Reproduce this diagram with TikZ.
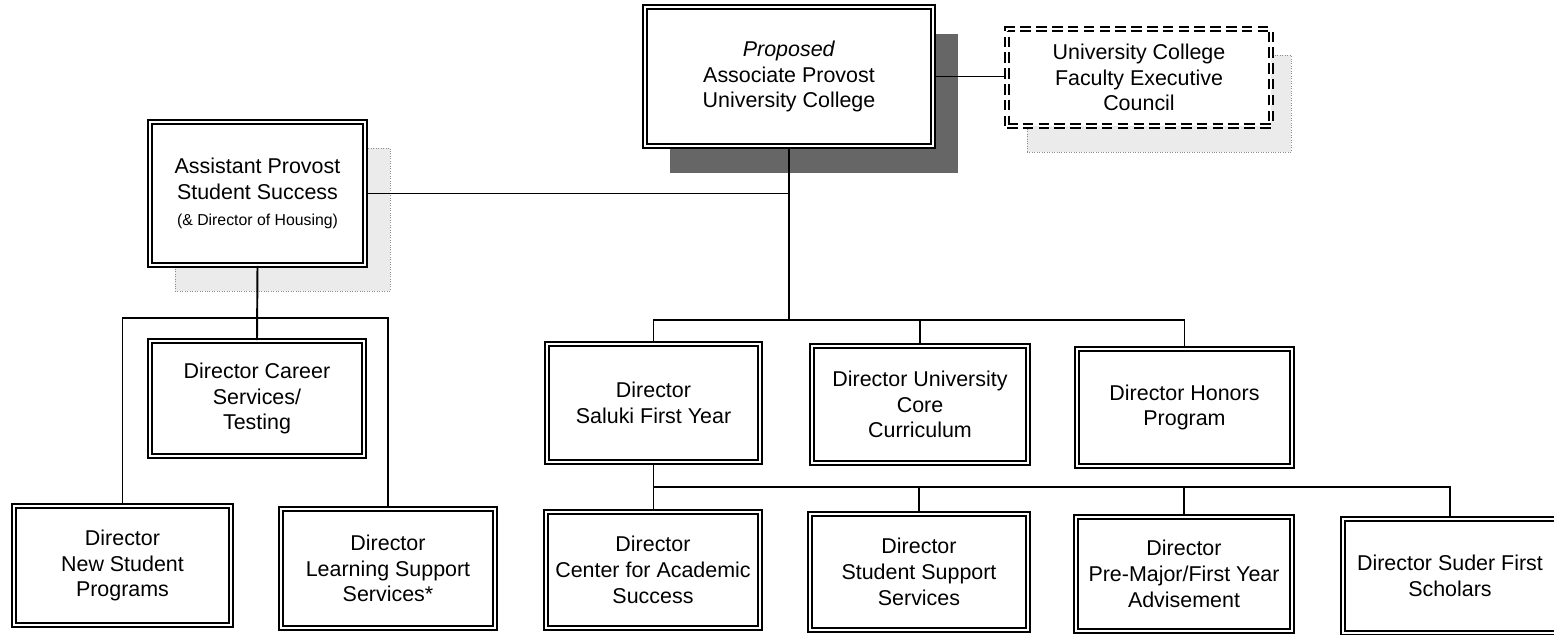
\documentclass[tikz,border=0pt]{standalone}
\usepackage{fontspec}
\setmainfont{Liberation Sans}
\usetikzlibrary{shadows}

\tikzset{
  office/.style={draw, line width=1pt, double=white, double distance=1.4pt, fill=white,
    align=center, inner sep=0pt, font=\fontsize{12.2}{14.7}\selectfont},
  darkshadow/.style={drop shadow={shadow xshift=0.5cm, shadow yshift=-0.55cm, fill=black!60, opacity=1}},
  paleshadow/.style={drop shadow={shadow xshift=#1, shadow yshift=-0.52cm, fill=black!8,
    draw=black!45, densely dotted, line width=0.4pt, opacity=1}},
  link/.style={line width=1.1pt}
}

\begin{document}
\begin{tikzpicture}
      \useasboundingbox (0,0) rectangle (31.08,12.7);

      \node (assoc) at(15.78,11.17)[office, darkshadow, minimum width=5.76cm, minimum height=2.78cm]
        {\textit{Proposed}\\Associate Provost\\University College};
      \node (council) at(22.78,11.15)[office, dashed, dash pattern=on 6pt off 3pt, paleshadow=0.4cm,
        minimum width=5.28cm, minimum height=1.94cm]
        {University College\\Faculty Executive\\Council};
      \node (asst) at(5.15,8.83)[office, paleshadow=0.5cm, minimum width=4.3cm, minimum height=2.86cm]
        {Assistant Provost\\Student Success\\{\fontsize{9}{14.7}\selectfont(\& Director of Housing)}};

      \node (career) at(5.14,4.73)[office, minimum width=4.28cm, minimum height=2.3cm]
        {Director Career\\Services/\\Testing};
      \node (newstud) at(2.45,1.39)[office, minimum width=4.34cm, minimum height=2.38cm]
        {Director\\New Student\\Programs};
      \node (learn) at(7.76,1.33)[office, minimum width=4.28cm, minimum height=2.38cm]
        {Director\\Learning Support\\Services*};

      \node (saluki) at(13.07,4.64)[office, minimum width=4.26cm, minimum height=2.36cm]
        {Director\\Saluki First Year};
      \node (core) at(18.40,4.61)[office, minimum width=4.32cm, minimum height=2.34cm]
        {Director University\\Core\\Curriculum};
      \node (honors) at(23.69,4.55)[office, minimum width=4.3cm, minimum height=2.34cm]
        {Director Honors\\Program};

      \node (cas) at(13.06,1.30)[office, minimum width=4.28cm, minimum height=2.32cm]
        {Director\\Center for Academic\\Success};
      \node (sss) at(18.38,1.26)[office, minimum width=4.36cm, minimum height=2.32cm]
        {Director\\Student Support\\Services};
      \node (premajor) at(23.68,1.22)[office, minimum width=4.32cm, minimum height=2.28cm]
        {Director\\Pre-Major/First Year\\Advisement};
      \node (suder) at(29.00,1.18)[office, minimum width=4.28cm, minimum height=2.28cm]
        {Director Suder First\\Scholars};

      \coordinate (topbus) at(15.78,6.30);
      \coordinate (leftbus) at(5.14,6.34);
      \coordinate (lowbus) at(13.07,2.96);

      \draw[link] (assoc.east) -- (assoc.east -| council.west);
      \draw[link] (assoc.south) -- (topbus);
      \draw[link] (asst.east) -- (asst.east -| assoc.south);
      \draw[link] (saluki.north) |- (topbus) -| (honors.north);
      \draw[link] (core.north) -- (core.north |- topbus);

      \draw[link] (asst.south) -- (career.north);
      \draw[link] (newstud.north) |- (leftbus) -| (learn.north);

      \draw[link] (saluki.south) -- (saluki.south |- cas.north);
      \draw[link] (lowbus) -| (suder.north);
      \draw[link] (sss.north) -- (sss.north |- lowbus);
      \draw[link] (premajor.north) -- (premajor.north |- lowbus);

    \end{tikzpicture}
\end{document}
